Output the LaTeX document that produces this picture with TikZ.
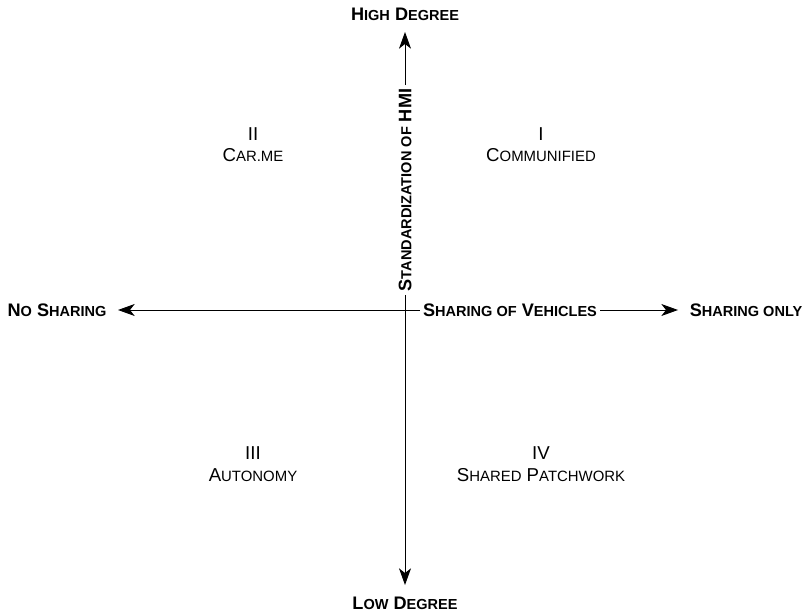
\documentclass[tikz,border=0pt]{standalone}
\usepackage{fontspec}
\setmainfont{Liberation Sans}
\usetikzlibrary{arrows.meta}
% faked small capitals: the small letters of the bold axis labels and of the quadrant names
\newcommand\lcax[1]{{\fontsize{10.9pt}{12pt}\selectfont #1}}
\newcommand\lcqd[1]{{\fontsize{11.2pt}{13pt}\selectfont #1}}
\begin{document}
\begin{tikzpicture}[x=0.75pt,y=-0.75pt,
  axislabel/.style={font=\fontsize{13.6pt}{15pt}\selectfont\bfseries, inner sep=2.5pt},
  quadlabel/.style={font=\fontsize{14pt}{16pt}\selectfont, align=center, inner sep=0pt},
  axisline/.style={line width=0.75pt, -{Stealth[length=12.5pt,width=9pt,inset=3.5pt]}}]
\useasboundingbox (0,0) rectangle (805,616);

% end labels of the axes
\node[axislabel] (high) at (405,14) {H\lcax{IGH} D\lcax{EGREE}};
\node[axislabel] (low) at (405,603) {L\lcax{OW} D\lcax{EGREE}};
\node[axislabel] (nosh) at (57,310) {N\lcax{O} S\lcax{HARING}};
\node[axislabel] (shonly) at (746,310) {S\lcax{HARING ONLY}};

% axis titles sitting on the axes
\node[axislabel] (hmi) at (405,190) [rotate=90] {S\lcax{TANDARDIZATION OF} HMI};
\node[axislabel] (veh) at (510,310) {S\lcax{HARING OF} V\lcax{EHICLES}};

% arrow tips
\coordinate (toptip) at (405,32);
\coordinate (bottip) at (405,585);
\coordinate (lefttip) at (118,310);
\coordinate (righttip) at (678,310);

% axes
\draw[axisline] (hmi.east) -- (toptip);
\draw[axisline] (hmi.west) -- (bottip);
\draw[axisline] (veh.west) -- (lefttip);
\draw[axisline] (veh.east) -- (righttip);

% quadrants
\node[quadlabel] (q1) at (541,145) {I\\[0pt]C\lcqd{OMMUNIFIED}};
\node[quadlabel] (q2) at (253,145) {II\\[0pt]C\lcqd{AR.ME}};
\node[quadlabel] (q3) at (253,464) {III\\[0pt]A\lcqd{UTONOMY}};
\node[quadlabel] (q4) at (541,464) {IV\\[0pt]S\lcqd{HARED} P\lcqd{ATCHWORK}};
\end{tikzpicture}
\end{document}
